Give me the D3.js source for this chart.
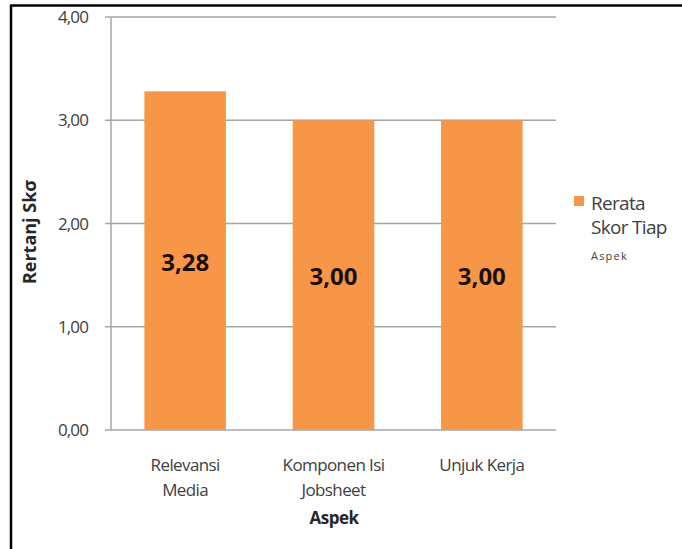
<!DOCTYPE html>
<html>
<head>
<meta charset="utf-8">
<script src="https://cdn.jsdelivr.net/npm/d3@7"></script>
<style>
  html, body { margin: 0; padding: 0; background: #fff; }
  svg { display: block; }
</style>
</head>
<body>
<svg id="chart" width="682" height="549"></svg>
<script>
// Average score per aspect
const categories = ["Relevansi Media", "Komponen Isi Jobsheet", "Unjuk Kerja"];
const categoryLines = [["Relevansi", "Media"], ["Komponen Isi", "Jobsheet"], ["Unjuk Kerja"]];
const values = [3.28, 3.00, 3.00];
const valueLabels = ["3,28", "3,00", "3,00"];
const yTicks = [0, 1, 2, 3, 4];
const yTickLabels = ["0,00", "1,00", "2,00", "3,00", "4,00"];
const seriesName = ["Rerata", "Skor Tiap", "Aspek"];

const svg = d3.select("#chart");
const font = "'Open Sans', 'Noto Sans', sans-serif";

// frame lines (top and left)
svg.append("line").attr("x1", 10).attr("x2", 682).attr("y1", 5.5).attr("y2", 5.5)
  .attr("stroke", "#000").attr("stroke-width", 2.5);
svg.append("line").attr("x1", 11).attr("x2", 11).attr("y1", 5).attr("y2", 549)
  .attr("stroke", "#000").attr("stroke-width", 2.5);

const plot = { left: 111, right: 556, top: 17, bottom: 430 };

const x = d3.scaleBand().domain(categories)
  .range([plot.left, plot.right]).paddingInner(0.45).paddingOuter(0.225);
const y = d3.scaleLinear().domain([0, 4]).range([plot.bottom, plot.top]);

// horizontal gridlines
svg.append("g").selectAll("line").data(yTicks).join("line")
  .attr("x1", plot.left - 6).attr("x2", plot.right)
  .attr("y1", d => y(d)).attr("y2", d => y(d))
  .attr("stroke", "#a6a6a6").attr("stroke-width", 1.5);

// vertical axis line
svg.append("line").attr("x1", plot.left).attr("x2", plot.left)
  .attr("y1", y(4)).attr("y2", y(0))
  .attr("stroke", "#a6a6a6").attr("stroke-width", 1.5);

// y tick labels
svg.append("g").selectAll("text").data(yTicks).join("text")
  .attr("x", 88).attr("y", d => y(d) + 6)
  .attr("text-anchor", "end")
  .attr("font-family", font).attr("font-size", 17).attr("fill", "#404040")
  .attr("letter-spacing", -0.9)
  .text((d, i) => yTickLabels[i]);

// bars
svg.append("g").selectAll("rect").data(values).join("rect")
  .attr("x", (d, i) => x(categories[i]))
  .attr("y", d => y(d))
  .attr("width", x.bandwidth())
  .attr("height", d => y(0) - y(d))
  .attr("fill", "#F79646");

// value labels in the middle of each bar
svg.append("g").selectAll("text").data(values).join("text")
  .attr("x", (d, i) => x(categories[i]) + x.bandwidth() / 2)
  .attr("y", d => (y(d) + y(0)) / 2 + 10)
  .attr("text-anchor", "middle")
  .attr("font-family", font).attr("font-size", 24).attr("font-weight", "bold")
  .attr("fill", "#1a0e08")
  .text((d, i) => valueLabels[i]);

// category labels
const cat = svg.append("g").selectAll("text").data(categories).join("text")
  .attr("text-anchor", "middle")
  .attr("font-family", font).attr("font-size", 17).attr("fill", "#404040")
  .attr("letter-spacing", -0.6);
cat.each(function(d, i) {
  const t = d3.select(this);
  categoryLines[i].forEach((line, j) => {
    t.append("tspan")
      .attr("x", x(d) + x.bandwidth() / 2)
      .attr("y", 471 + j * 25)
      .text(line);
  });
});

// axis titles
svg.append("text")
  .attr("x", 334).attr("y", 524)
  .attr("text-anchor", "middle")
  .attr("font-family", font).attr("font-size", 17).attr("font-weight", "bold")
  .attr("fill", "#262626").attr("letter-spacing", -0.5)
  .text("Aspek");

svg.append("text")
  .attr("transform", "translate(36,232) rotate(-90)")
  .attr("text-anchor", "middle")
  .attr("font-family", font).attr("font-size", 18).attr("font-weight", "bold")
  .attr("fill", "#262626").attr("letter-spacing", 0)
  .text("Rertanj Skσ");

// legend
svg.append("rect").attr("x", 574).attr("y", 196).attr("width", 10).attr("height", 10)
  .attr("fill", "#F79646");
svg.append("text")
  .attr("font-family", font).attr("fill", "#404040")
  .selectAll("tspan").data(seriesName).join("tspan")
  .attr("x", 591)
  .attr("y", (d, i) => [210, 234, 260][i])
  .attr("font-size", (d, i) => i < 2 ? 19 : 11)
  .attr("letter-spacing", (d, i) => i < 2 ? -0.7 : 1.2)
  .text(d => d);
</script>
</body>
</html>
